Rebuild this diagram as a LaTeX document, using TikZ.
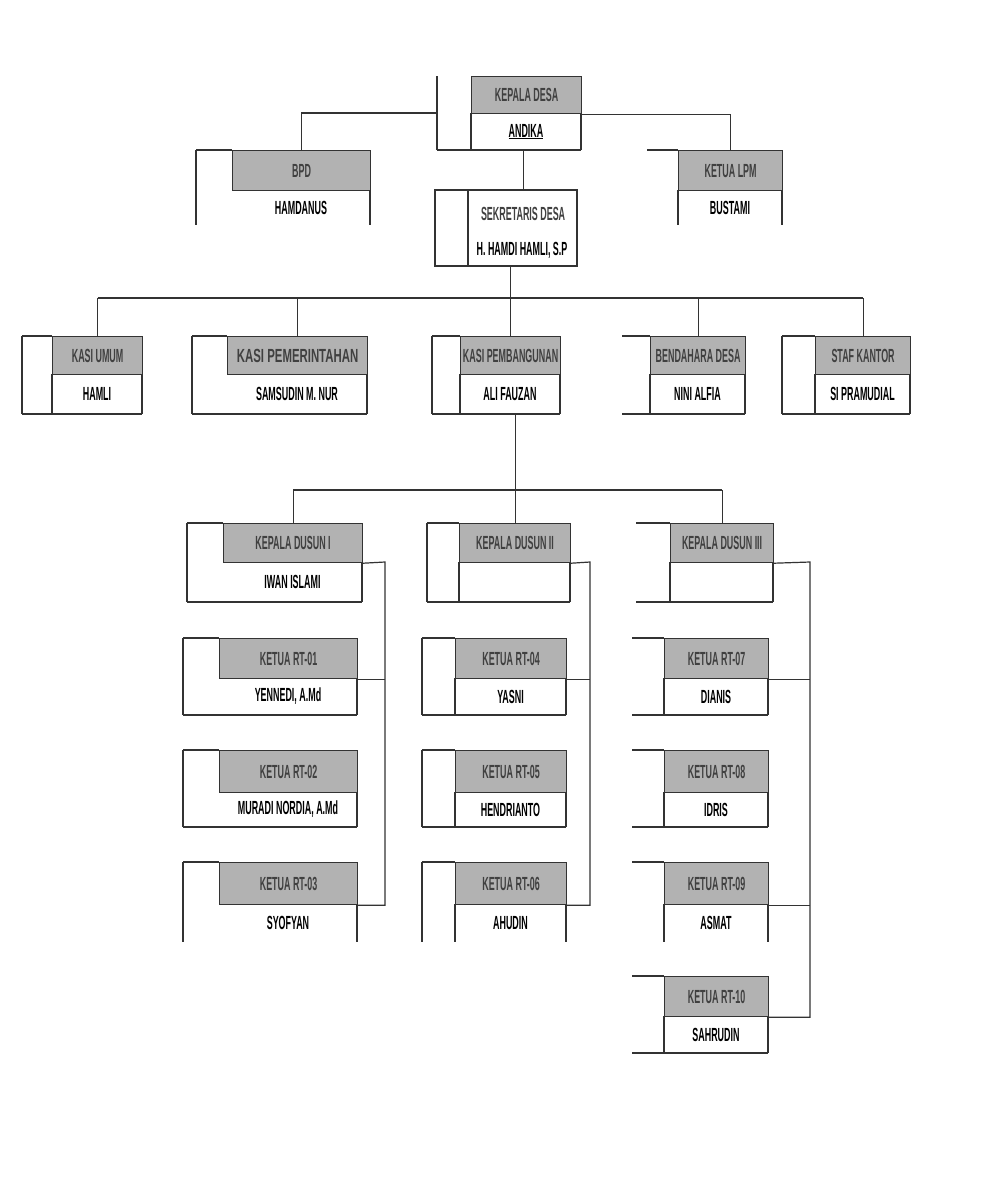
\documentclass[tikz,border=0pt]{standalone}
\usepackage{fontspec}
\newfontfamily\boxfont{Liberation Sans}[FakeStretch=0.47]
\usepackage{tikz}
\usetikzlibrary{calc}

\begin{document}
\begin{tikzpicture}[x=1pt,y=-1pt,line width=1.2pt,draw=black!80,
  head/.style={draw,fill=black!30,inner sep=0pt,anchor=north west,
    text=black!75,font=\boxfont\bfseries\fontsize{19}{21}\selectfont},
  person/.style={inner sep=1pt,text=black,font=\boxfont\bfseries\fontsize{19}{21}\selectfont}]

% Page
\fill[white] (0,0) rectangle (996,1192);
\useasboundingbox (0,0) rectangle (996,1192);

% Boxes: id/left/divider/right/top/head/bottom/leftline/divline/bottomline/title/person
\foreach \id/\xl/\xd/\xr/\yt/\yh/\yb/\lft/\dv/\bt/\title/\who in {
    kades/437/471/581/76/113/150/2/1/1/KEPALA DESA/{\underline{ANDIKA}},
    bpd/196/232/370/150/190/225/1/0/0/BPD/HAMDANUS,
    lpm/647/678/782/150/190/225/0/1/0/KETUA LPM/BUSTAMI,
    umum/22/52/142/336/374/414/1/1/1/KASI UMUM/HAMLI,
    pem/192/227/367/336/374/414/1/0/1/{\addfontfeature{FakeStretch=0.6}KASI PEMERINTAHAN}/{SAMSUDIN M. NUR},
    bang/432/460/560/336/374/414/1/1/1/KASI PEMBANGUNAN/ALI FAUZAN,
    bend/622/650/745/336/374/414/0/1/1/BENDAHARA DESA/NINI ALFIA,
    staf/782/815/910/336/374/414/1/1/1/STAF KANTOR/SI PRAMUDIAL,
    dus1/187/223/362/523/562/602/1/0/1/KEPALA DUSUN I/IWAN ISLAMI,
    dus2/427/459/570/523/562/602/1/1/1/KEPALA DUSUN II/{},
    dus3/636/670/773/523/562/602/0/1/1/KEPALA DUSUN III/{},
    rt01/183/219/357/638/678/715/1/0/1/KETUA RT-01/{YENNEDI, A.Md},
    rt02/183/219/357/750/792/827/1/0/1/KETUA RT-02/{MURADI NORDIA, A.Md},
    rt03/183/219/357/862/904/942/1/0/0/KETUA RT-03/SYOFYAN,
    rt04/422/455/566/638/678/715/1/1/1/KETUA RT-04/YASNI,
    rt05/422/455/566/750/792/827/1/1/1/KETUA RT-05/HENDRIANTO,
    rt06/422/455/566/862/904/942/1/1/0/KETUA RT-06/AHUDIN,
    rt07/632/664/768/638/678/715/0/1/1/KETUA RT-07/DIANIS,
    rt08/632/664/768/750/792/827/0/1/1/KETUA RT-08/IDRIS,
    rt09/632/664/768/862/904/942/0/1/0/KETUA RT-09/ASMAT,
    rt10/632/664/768/976/1016/1053/0/1/1/KETUA RT-10/SAHRUDIN} {
  \node[head,minimum width={(\xr-\xd)*1pt},minimum height={(\yh-\yt)*1pt}]
    (\id-h) at (\xd,\yt) {\title};
  \node[person] (\id) at ({(\xd+\xr)/2},{(\yh+\yb)/2}) {\who};
  \coordinate (\id-w) at (\xl,\yh);
  \coordinate (\id-b) at (\xl,\yb);
  \draw (\xr,\yh) -- (\xr,\yb);
  \ifnum\lft<2 \draw (\xl,\yt) -- (\xd,\yt); \fi
  \ifnum\lft>0 \draw (\xl,\yt) -- (\xl,\yb); \fi
  \ifnum\dv=1 \draw (\xd,\yh) -- (\xd,\yb); \fi
  \ifnum\bt=1 \draw (\xl,\yb) -- (\xr,\yb); \fi
}

% Sekretaris desa (no shaded head)
\node[head,draw=none,fill=none,minimum width=109pt,minimum height=46pt]
  (sekdes-h) at (468,190) {SEKRETARIS DESA};
\node[person] (sekdes) at (522,250) {H. HAMDI HAMLI, S.P};
\draw (435,190) rectangle (577,266);
\draw (468,190) -- (468,266);
\coordinate (sekdes-b) at (435,266);

% Top level
\draw (kades-w) -| (bpd-h.north);
\draw (kades-h.south east) -| (lpm-h.north);
\draw (kades-b -| sekdes-h.north) -- (sekdes-h.north);

% Kasi row
\coordinate (kasibus) at (510,298);
\draw (sekdes-b -| bang-h.north) -- (bang-h.north);
\draw (umum-h.north |- kasibus) -- (staf-h.north |- kasibus);
\foreach \k in {umum,pem,bend,staf}
    \draw (\k-h.north |- kasibus) -- (\k-h.north);

% Dusun row
\coordinate (dusbus) at (514,490);
\draw (bang-b -| dus2-h.north) -- (dus2-h.north);
\draw (dus1-h.north |- dusbus) -- (dus3-h.north |- dusbus);
\foreach \k in {dus1,dus3}
    \draw (\k-h.north |- dusbus) -- (\k-h.north);

% RT brackets
\foreach \d/\x/\first/\last in {dus1/385/rt01/rt03,dus2/590/rt04/rt06,dus3/810/rt07/rt10} {
  \coordinate (br-\d) at (\x,562);
  \draw (\d-h.south east) -- (br-\d) |- (\last-h.south east);
  \draw (\first-h.south east) -- (\first-h.south east -| br-\d);
}
\draw (rt09-h.south east) -- (rt09-h.south east -| br-dus3);

\end{tikzpicture}
\end{document}
